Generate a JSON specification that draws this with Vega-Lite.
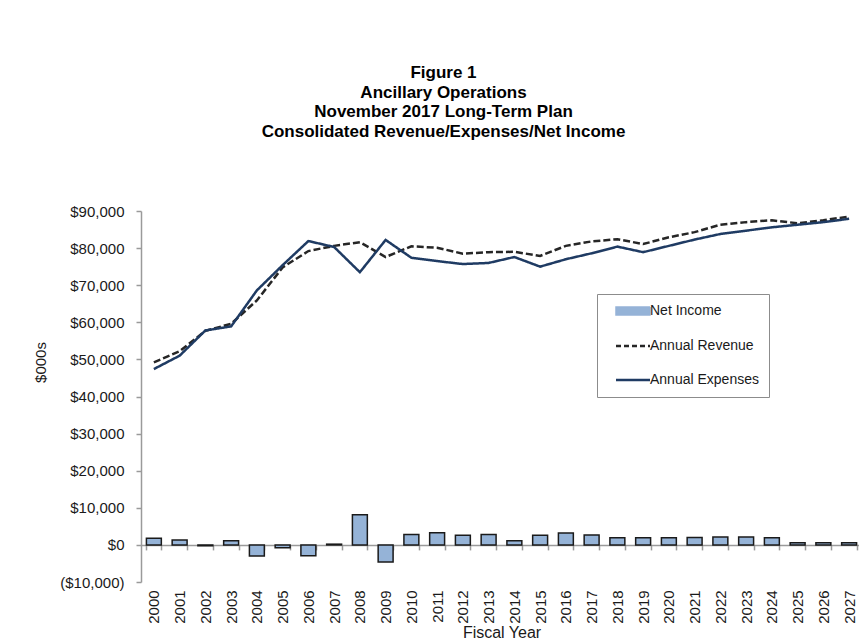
{
  "$schema": "https://vega.github.io/schema/vega-lite/v6.json",
  "autosize": {"type": "none"},
  "padding": {"left": 141, "top": 211, "right": 0, "bottom": 60},
  "width": 721,
  "height": 371,
  "background": "white",
  "title": {
    "text": ["Figure 1", "Ancillary Operations", "November 2017 Long-Term Plan", "Consolidated Revenue/Expenses/Net Income"],
    "font": "Liberation Sans",
    "fontSize": 17,
    "fontWeight": "bold",
    "lineHeight": 19.7,
    "color": "#000000",
    "anchor": "middle",
    "frame": "group",
    "dx": -58,
    "offset": 63
  },
  "data": {
    "values": [
      {"year": "2000", "Net Income": 1800, "Annual Revenue": 49200, "Annual Expenses": 47400},
      {"year": "2001", "Net Income": 1300, "Annual Revenue": 52200, "Annual Expenses": 51000},
      {"year": "2002", "Net Income": -200, "Annual Revenue": 57700, "Annual Expenses": 57800},
      {"year": "2003", "Net Income": 1100, "Annual Revenue": 59600, "Annual Expenses": 58900},
      {"year": "2004", "Net Income": -3000, "Annual Revenue": 65900, "Annual Expenses": 68600},
      {"year": "2005", "Net Income": -800, "Annual Revenue": 74800, "Annual Expenses": 75400},
      {"year": "2006", "Net Income": -2900, "Annual Revenue": 79200, "Annual Expenses": 81900},
      {"year": "2007", "Net Income": 200, "Annual Revenue": 80600, "Annual Expenses": 80300},
      {"year": "2008", "Net Income": 8100, "Annual Revenue": 81600, "Annual Expenses": 73500},
      {"year": "2009", "Net Income": -4600, "Annual Revenue": 77600, "Annual Expenses": 82200},
      {"year": "2010", "Net Income": 2800, "Annual Revenue": 80500, "Annual Expenses": 77400},
      {"year": "2011", "Net Income": 3300, "Annual Revenue": 80100, "Annual Expenses": 76500},
      {"year": "2012", "Net Income": 2600, "Annual Revenue": 78500, "Annual Expenses": 75700},
      {"year": "2013", "Net Income": 2800, "Annual Revenue": 78900, "Annual Expenses": 76000},
      {"year": "2014", "Net Income": 1100, "Annual Revenue": 79000, "Annual Expenses": 77600},
      {"year": "2015", "Net Income": 2600, "Annual Revenue": 77900, "Annual Expenses": 75000},
      {"year": "2016", "Net Income": 3200, "Annual Revenue": 80600, "Annual Expenses": 77000},
      {"year": "2017", "Net Income": 2700, "Annual Revenue": 81800, "Annual Expenses": 78600},
      {"year": "2018", "Net Income": 1900, "Annual Revenue": 82400, "Annual Expenses": 80400},
      {"year": "2019", "Net Income": 1900, "Annual Revenue": 81100, "Annual Expenses": 78900},
      {"year": "2020", "Net Income": 1900, "Annual Revenue": 82900, "Annual Expenses": 80600},
      {"year": "2021", "Net Income": 2000, "Annual Revenue": 84300, "Annual Expenses": 82300},
      {"year": "2022", "Net Income": 2100, "Annual Revenue": 86300, "Annual Expenses": 83800},
      {"year": "2023", "Net Income": 2100, "Annual Revenue": 87000, "Annual Expenses": 84700},
      {"year": "2024", "Net Income": 1900, "Annual Revenue": 87500, "Annual Expenses": 85600},
      {"year": "2025", "Net Income": 600, "Annual Revenue": 86700, "Annual Expenses": 86300},
      {"year": "2026", "Net Income": 600, "Annual Revenue": 87500, "Annual Expenses": 87000},
      {"year": "2027", "Net Income": 600, "Annual Revenue": 88500, "Annual Expenses": 87900}
    ]
  },
  "transform": [
    {"fold": ["Net Income", "Annual Revenue", "Annual Expenses"], "as": ["series", "value"]}
  ],
  "encoding": {
    "x": {
      "field": "year",
      "type": "ordinal",
      "scale": {"paddingInner": 0.42, "paddingOuter": 0.21},
      "axis": {
        "title": "Fiscal Year",
        "offset": -37.1,
        "labelAngle": -90,
        "labelAlign": "right",
        "labelBaseline": "middle",
        "labelPadding": 40,
        "labelFontSize": 15,
        "labelColor": "#1a1a1a",
        "tickBand": "extent",
        "tickSize": 5,
        "tickColor": "#9a9a9a",
        "tickWidth": 1.5,
        "domainColor": "#9a9a9a",
        "domainWidth": 1.5,
        "titleFontSize": 16,
        "titleFontWeight": "normal",
        "titleColor": "#1a1a1a",
        "titlePadding": 1
      }
    },
    "y": {
      "field": "value",
      "type": "quantitative",
      "scale": {"domain": [-10000, 90000], "nice": false, "zero": false},
      "axis": {
        "title": "$000s",
        "values": [-10000, 0, 10000, 20000, 30000, 40000, 50000, 60000, 70000, 80000, 90000],
        "labelExpr": "datum.value < 0 ? '($' + format(-datum.value, ',') + ')' : '$' + format(datum.value, ',')",
        "grid": false,
        "tickSize": 5,
        "tickColor": "#9a9a9a",
        "tickWidth": 1.5,
        "domainColor": "#9a9a9a",
        "domainWidth": 1.5,
        "labelFontSize": 15,
        "labelColor": "#1a1a1a",
        "labelPadding": 12,
        "titleFontSize": 15,
        "titleFontWeight": "normal",
        "titleColor": "#1a1a1a",
        "titleAngle": -90,
        "titleX": -101,
        "titleY": 151,
        "titleAlign": "center",
        "titleBaseline": "middle"
      }
    },
    "color": {
      "field": "series",
      "type": "nominal",
      "scale": {
        "domain": ["Net Income", "Annual Revenue", "Annual Expenses"],
        "range": ["#95b3d7", "#262626", "#1f3b63"]
      },
      "legend": {
        "title": null,
        "orient": "none",
        "legendX": 456,
        "legendY": 83,
        "rowPadding": 20,
        "symbolOffset": 19,
        "labelOffset": 10,
        "labelFontSize": 14,
        "labelColor": "#1a1a1a",
        "labelFont": "Liberation Sans",
        "encode": {
          "symbols": {
            "update": {
              "shape": {"signal": "datum.value === 'Net Income' ? 'M-1,-0.24H1V0.24H-1Z' : 'stroke'"},
              "fill": {"signal": "datum.value === 'Net Income' ? '#95b3d7' : 'transparent'"},
              "stroke": {"signal": "datum.value === 'Net Income' ? '#1a1a1a' : (datum.value === 'Annual Revenue' ? '#262626' : '#1f3b63')"},
              "strokeDash": {"signal": "datum.value === 'Annual Revenue' ? [5, 3] : [1, 0]"},
              "strokeWidth": {"signal": "datum.value === 'Net Income' ? 1.5 : 2.5"},
              "size": {"value": 1156},
              "opacity": {"value": 1}
            }
          }
        }
      }
    }
  },
  "layer": [
    {
      "transform": [{"filter": "datum.series === 'Net Income'"}],
      "mark": {"type": "bar", "stroke": "#1a1a1a", "strokeWidth": 1.5, "opacity": 1}
    },
    {
      "transform": [{"filter": "datum.series !== 'Net Income'"}],
      "mark": {"type": "line", "strokeWidth": 2.5},
      "encoding": {
        "strokeDash": {
          "field": "series",
          "type": "nominal",
          "scale": {"domain": ["Annual Revenue", "Annual Expenses"], "range": [[7, 3], [1, 0]]},
          "legend": null
        }
      }
    }
  ],
  "config": {
    "font": "Liberation Sans",
    "view": {"stroke": null},
    "legend": {
      "padding": 10,
      "strokeColor": "#8c8c8c",
      "fillColor": "white"
    }
  }
}
